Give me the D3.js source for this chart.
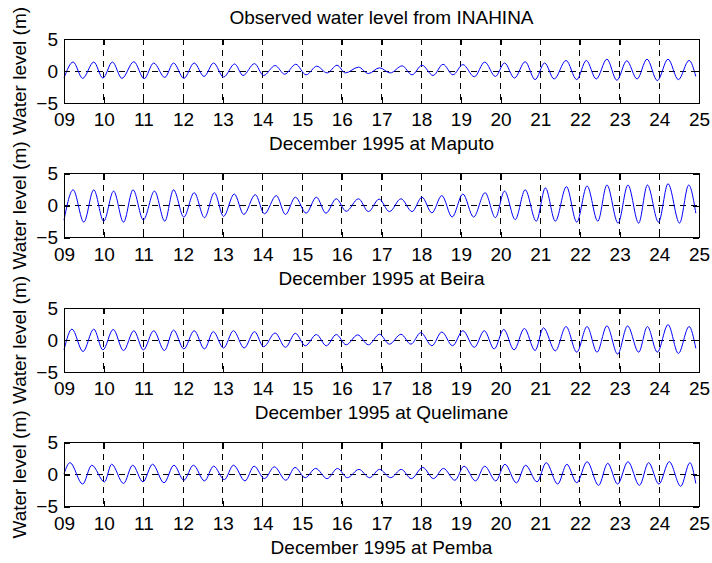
<!DOCTYPE html>
<html>
<head>
<meta charset="utf-8">
<script src="https://cdn.jsdelivr.net/npm/d3@7/dist/d3.min.js"></script>
<style>
  body { margin: 0; background: #fff; }
  text { font-family: "Liberation Sans", Arial, sans-serif; fill: #000; }
</style>
</head>
<body>
<div id="chart"></div>
<script>
// stations, one subplot each
var stations = ["Maputo", "Beira", "Quelimane", "Pemba"];
var dayTicks = [9, 10, 11, 12, 13, 14, 15, 16, 17, 18, 19, 20, 21, 22, 23, 24, 25];
var dayLabels = ["09", "10", "11", "12", "13", "14", "15", "16", "17", "18", "19", "20", "21", "22", "23", "24", "25"];
var levelTicks = [-5, 0, 5];

// high / low waters (day of December, metres)
var maputoDay = [9.0, 9.23, 9.47, 9.75, 9.98, 10.22, 10.46, 10.76, 11.02, 11.26, 11.54, 11.76, 12.02, 12.28, 12.53, 12.77, 13.02, 13.3, 13.51, 13.8, 14.03, 14.32, 14.56, 14.84, 15.1, 15.37, 15.63, 15.88, 16.09, 16.42, 16.67, 16.95, 17.22, 17.52, 17.77, 18.02, 18.3, 18.55, 18.8, 19.05, 19.34, 19.6, 19.87, 20.1, 20.35, 20.62, 20.87, 21.11, 21.35, 21.65, 21.92, 22.16, 22.41, 22.68, 22.93, 23.18, 23.44, 23.69, 23.95, 24.22, 24.48, 24.75, 24.92];
var maputoLevel = [-1.1, 1.4, -1.15, 1.4, -1.1, 1.4, -1.15, 1.45, -1.2, 1.25, -1.0, 1.25, -1.15, 1.25, -0.85, 1.25, -0.95, 1.1, -0.7, 1.15, -0.7, 0.85, -0.5, 1.05, -0.6, 0.75, -0.3, 0.9, -0.3, 0.6, -0.4, 0.5, -0.3, 0.8, -0.6, 0.9, -0.7, 1.05, -0.6, 1.0, -0.9, 1.4, -0.85, 1.25, -1.1, 1.45, -1.35, 1.25, -1.25, 1.65, -1.35, 1.65, -1.25, 1.85, -1.45, 1.6, -1.25, 1.85, -1.5, 1.85, -1.35, 1.65, -0.85];

var beiraDay = [9.0, 9.23, 9.5, 9.75, 10.0, 10.25, 10.5, 10.74, 11.0, 11.28, 11.54, 11.76, 12.02, 12.28, 12.54, 12.79, 13.02, 13.29, 13.53, 13.82, 14.05, 14.35, 14.58, 14.83, 15.1, 15.36, 15.6, 15.86, 16.11, 16.42, 16.67, 16.94, 17.2, 17.49, 17.77, 18.02, 18.27, 18.52, 18.78, 19.05, 19.32, 19.61, 19.87, 20.1, 20.37, 20.62, 20.9, 21.13, 21.38, 21.66, 21.92, 22.18, 22.45, 22.68, 22.96, 23.21, 23.48, 23.7, 23.98, 24.22, 24.51, 24.74, 24.92];
var beiraLevel = [-2.3, 2.45, -2.6, 2.45, -2.45, 2.25, -2.6, 2.45, -2.25, 2.25, -2.45, 2.45, -1.8, 2.0, -1.9, 2.0, -1.7, 1.8, -1.4, 1.7, -1.3, 1.55, -1.4, 1.3, -1.2, 1.3, -1.2, 1.05, -0.9, 1.05, -0.95, 1.0, -0.95, 1.05, -0.95, 1.3, -1.15, 1.55, -1.8, 1.8, -1.8, 2.0, -1.9, 2.25, -2.2, 2.45, -2.45, 2.75, -2.45, 2.95, -2.6, 3.05, -2.45, 3.2, -2.75, 3.2, -2.75, 3.2, -2.6, 3.4, -2.75, 3.2, -1.2];

var quelimaneDay = [9.0, 9.2, 9.48, 9.75, 9.98, 10.24, 10.5, 10.76, 11.0, 11.26, 11.53, 11.76, 12.02, 12.28, 12.54, 12.76, 13.02, 13.27, 13.54, 13.8, 14.03, 14.32, 14.58, 14.83, 15.08, 15.36, 15.61, 15.86, 16.11, 16.4, 16.67, 16.95, 17.2, 17.49, 17.74, 17.99, 18.27, 18.52, 18.79, 19.05, 19.34, 19.59, 19.84, 20.08, 20.34, 20.6, 20.87, 21.08, 21.38, 21.65, 21.92, 22.18, 22.43, 22.68, 22.95, 23.2, 23.48, 23.7, 23.95, 24.22, 24.48, 24.75, 24.92];
var quelimaneLevel = [-1.55, 1.7, -1.8, 1.7, -1.55, 1.65, -1.65, 1.45, -1.55, 1.45, -1.65, 1.55, -1.4, 1.45, -1.4, 1.3, -1.25, 1.45, -1.25, 1.3, -1.05, 1.1, -1.15, 1.05, -0.9, 0.85, -0.9, 0.85, -0.75, 0.8, -0.75, 0.9, -0.65, 0.9, -0.65, 1.15, -0.9, 1.25, -0.9, 1.45, -1.15, 1.45, -1.4, 1.65, -1.55, 1.8, -1.65, 1.9, -1.7, 2.1, -1.9, 2.1, -1.9, 2.2, -2.2, 2.2, -1.9, 2.1, -1.9, 2.4, -2.1, 2.1, -1.3];

var pembaDay = [9.0, 9.15, 9.47, 9.7, 10.02, 10.2, 10.5, 10.73, 10.99, 11.23, 11.52, 11.77, 12.02, 12.26, 12.54, 12.77, 13.04, 13.27, 13.56, 13.79, 14.05, 14.3, 14.59, 14.82, 15.08, 15.34, 15.63, 15.89, 16.14, 16.43, 16.7, 16.95, 17.23, 17.5, 17.75, 18.04, 18.31, 18.56, 18.85, 19.08, 19.37, 19.6, 19.88, 20.11, 20.4, 20.63, 20.92, 21.15, 21.44, 21.67, 21.92, 22.18, 22.47, 22.7, 22.95, 23.21, 23.5, 23.73, 23.99, 24.25, 24.54, 24.77, 24.92];
var pembaLevel = [0.1, 1.85, -1.5, 1.45, -1.15, 1.6, -1.4, 1.45, -1.15, 1.6, -1.3, 1.45, -0.9, 1.45, -1.0, 1.3, -0.8, 1.45, -1.0, 1.3, -0.65, 1.2, -0.9, 1.1, -0.5, 0.95, -0.65, 0.95, -0.5, 0.8, -0.5, 0.8, -0.5, 0.8, -0.65, 1.1, -0.65, 0.95, -0.9, 1.3, -1.0, 1.3, -1.0, 1.6, -1.3, 1.45, -1.15, 1.85, -1.5, 1.6, -1.3, 2.0, -1.7, 1.75, -1.5, 2.0, -1.7, 1.85, -1.5, 2.0, -1.85, 1.85, -1.4];

var seriesDays = [maputoDay, beiraDay, quelimaneDay, pembaDay];
var seriesLevels = [maputoLevel, beiraLevel, quelimaneLevel, pembaLevel];

var width = 712, height = 563;
var left = 64, plotW = 635, plotH = 64;
var tops = [39, 173.5, 308, 442.5];
var tickLen = 6;
var fontSize = "19px";

var svg = d3.select("#chart").append("svg")
    .attr("width", width)
    .attr("height", height);

svg.append("rect").attr("width", width).attr("height", height).attr("fill", "#fff");

var x = d3.scaleLinear().domain([9, 25]).range([0, plotW]);
var y = d3.scaleLinear().domain([-5, 5]).range([plotH, 0]);

var line = d3.line()
    .x(function(d) { return x(d[0]); })
    .y(function(d) { return y(d[1]); })
    .curve(d3.curveMonotoneX);

stations.forEach(function(name, i) {
    var g = svg.append("g")
        .attr("transform", "translate(" + left + "," + tops[i] + ")");

    // dashed grid
    g.selectAll(".vgrid").data(dayTicks).enter().append("line")
        .attr("x1", function(d) { return x(d); }).attr("x2", function(d) { return x(d); })
        .attr("y1", 0).attr("y2", plotH)
        .attr("stroke", "#000").attr("stroke-width", 1)
        .attr("stroke-dasharray", "6,5")
        .attr("shape-rendering", "crispEdges");
    g.selectAll(".hgrid").data(levelTicks).enter().append("line")
        .attr("x1", 0).attr("x2", plotW)
        .attr("y1", function(d) { return y(d); }).attr("y2", function(d) { return y(d); })
        .attr("stroke", "#000").attr("stroke-width", 1)
        .attr("stroke-dasharray", "6,5")
        .attr("shape-rendering", "crispEdges");

    var pts = d3.zip(seriesDays[i], seriesLevels[i]);
    g.append("path")
        .datum(pts)
        .attr("d", line)
        .attr("fill", "none")
        .attr("stroke", "#0000ff")
        .attr("stroke-width", 1);

    // axes, ticks inward on all four sides
    var xb = d3.axisBottom(x).tickValues(dayTicks).tickSizeInner(-tickLen).tickSizeOuter(0)
        .tickFormat(function(d, k) { return dayLabels[k]; }).tickPadding(10);
    var xt = d3.axisTop(x).tickValues(dayTicks).tickSizeInner(-tickLen).tickSizeOuter(0).tickFormat("");
    var yl = d3.axisLeft(y).tickValues(levelTicks).tickSizeInner(-tickLen).tickSizeOuter(0).tickPadding(6);
    var yr = d3.axisRight(y).tickValues(levelTicks).tickSizeInner(-tickLen).tickSizeOuter(0).tickFormat("");

    var ax = [
        g.append("g").attr("transform", "translate(0," + plotH + ")").call(xb),
        g.append("g").call(xt),
        g.append("g").call(yl),
        g.append("g").attr("transform", "translate(" + plotW + ",0)").call(yr)
    ];
    ax.forEach(function(a) {
        a.select(".domain").remove();
        a.selectAll("line").attr("stroke", "#000").attr("shape-rendering", "crispEdges");
        a.selectAll("text").style("font-size", fontSize).attr("font-family", null);
    });

    g.append("rect")
        .attr("width", plotW).attr("height", plotH)
        .attr("fill", "none").attr("stroke", "#000").attr("stroke-width", 1)
        .attr("shape-rendering", "crispEdges");

    g.append("text")
        .attr("x", plotW / 2).attr("y", plotH + 47)
        .attr("text-anchor", "middle")
        .style("font-size", fontSize)
        .text("December 1995 at " + name);

    g.append("text")
        .attr("transform", "translate(" + (-38) + "," + (plotH / 2) + ") rotate(-90)")
        .attr("text-anchor", "middle")
        .style("font-size", fontSize)
        .text("Water level (m)");
});

svg.append("text")
    .attr("x", left + plotW / 2).attr("y", 24)
    .attr("text-anchor", "middle")
    .style("font-size", fontSize)
    .text("Observed water level from INAHINA");
</script>
</body>
</html>
